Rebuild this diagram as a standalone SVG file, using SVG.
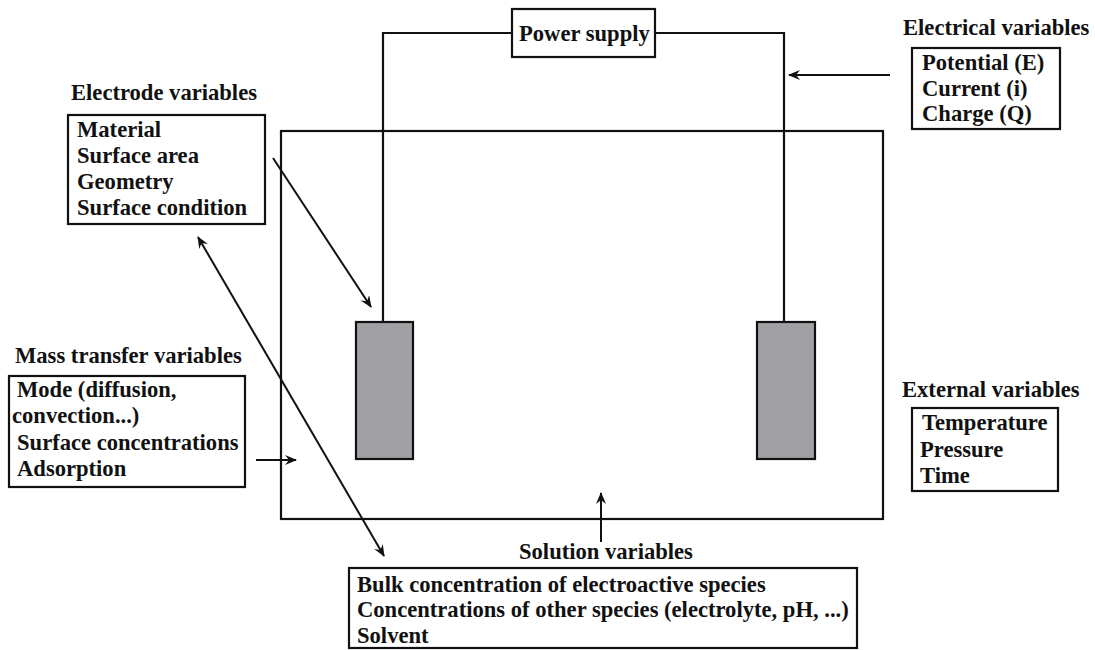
<svg xmlns="http://www.w3.org/2000/svg" width="1095" height="650" viewBox="0 0 1095 650">
<style>
text{font-family:"Liberation Serif","Times New Roman",serif;font-weight:bold;font-size:22.6px;fill:#111}
.box{fill:#fff;stroke:#111;stroke-width:2.2}
.wire{fill:none;stroke:#111;stroke-width:2.2}
.el{fill:#a1a1a5;stroke:#111;stroke-width:2.2}
.arr{fill:none;stroke:#111;stroke-width:2}
</style>
<defs>
<marker id="ah" viewBox="0 0 12 10" refX="11" refY="5" markerWidth="12" markerHeight="10" markerUnits="userSpaceOnUse" orient="auto-start-reverse">
<path d="M0,0 L12,5 L0,10 L4,5 z" fill="#111"/>
</marker>
</defs>
<g id="cell">
<rect class="box" x="281" y="131" width="602" height="388"/>
</g>
<g id="wires">
<polyline class="wire" points="383,322 383,33 512,33"/>
<polyline class="wire" points="655,33 784,33 784,322"/>
</g>
<g id="power-supply">
<rect class="box" x="512" y="9" width="143" height="48"/>
<text x="519" y="41">Power supply</text>
</g>
<g id="electrode-left">
<rect class="el" x="356" y="322" width="57" height="137"/>
</g>
<g id="electrode-right">
<rect class="el" x="757" y="322" width="58" height="137"/>
</g>
<g id="electrode-variables">
<text x="71" y="100">Electrode variables</text>
<rect class="box" x="68" y="115" width="197" height="109"/>
<text x="77" y="137">Material</text>
<text x="77" y="163">Surface area</text>
<text x="77" y="189">Geometry</text>
<text x="77" y="215">Surface condition</text>
</g>
<g id="electrical-variables">
<text x="903" y="35">Electrical variables</text>
<rect class="box" x="912" y="48" width="148" height="81"/>
<text x="922" y="70">Potential (E)</text>
<text x="922" y="96">Current (i)</text>
<text x="922" y="121">Charge (Q)</text>
</g>
<g id="mass-transfer-variables">
<text x="15" y="363">Mass transfer variables</text>
<rect class="box" x="9" y="376" width="236" height="111"/>
<text x="17" y="397">Mode (diffusion,</text>
<text x="12" y="423">convection...)</text>
<text x="17" y="450">Surface concentrations</text>
<text x="17" y="476">Adsorption</text>
</g>
<g id="external-variables">
<text x="902" y="397">External variables</text>
<rect class="box" x="912" y="408" width="146" height="83"/>
<text x="922" y="430">Temperature</text>
<text x="920" y="457">Pressure</text>
<text x="920" y="483">Time</text>
</g>
<g id="solution-variables">
<text x="519" y="559">Solution variables</text>
<rect class="box" x="349" y="568" width="508" height="80"/>
<text x="357" y="592">Bulk concentration of electroactive species</text>
<text x="357" y="617">Concentrations of other species (electrolyte, pH, ...)</text>
<text x="357" y="643">Solvent</text>
</g>
<g id="connectors">
<line class="arr" x1="890" y1="75" x2="789" y2="75" marker-end="url(#ah)"/>
<line class="arr" x1="273" y1="158" x2="371" y2="307" marker-end="url(#ah)"/>
<line class="arr" x1="256" y1="460" x2="296" y2="460" marker-end="url(#ah)"/>
<line class="arr" x1="198" y1="237" x2="384" y2="556" marker-start="url(#ah)" marker-end="url(#ah)"/>
<line class="arr" x1="601" y1="542" x2="601" y2="493" marker-end="url(#ah)"/>
</g>
</svg>
